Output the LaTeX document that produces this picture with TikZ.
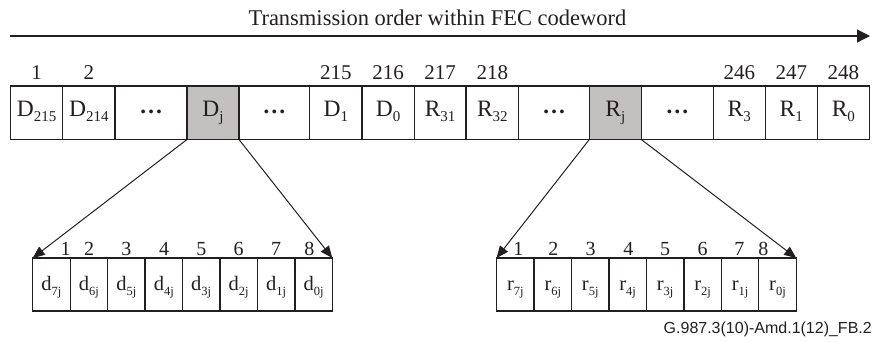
\documentclass[tikz,border=0pt]{standalone}
\usepackage{fontspec}
\setmainfont{Liberation Serif}
\setsansfont{Liberation Sans}
\usetikzlibrary{arrows.meta}
\definecolor{ink}{HTML}{231F20}
\definecolor{shade}{HTML}{C2C1BF}
\newcommand{\bigsub}[1]{\raisebox{-5.3pt}{\fontsize{15}{15}\selectfont #1}}
\newcommand{\smlsub}[1]{\raisebox{-5.5pt}{\fontsize{12.5}{12.5}\selectfont #1}}
\newcommand{\celldots}{\textbf{\raisebox{2.5pt}{…}}}
\begin{document}
\begin{tikzpicture}[x=1pt,y=-1pt,
  topcell/.style={draw=ink, line width=1.3pt, minimum height=53.5pt, inner sep=0pt, outer sep=0pt,
    text height=14pt, text depth=7.5pt, anchor=west, text=ink, font=\fontsize{23.5}{23.5}\selectfont},
  botcell/.style={draw=ink, line width=1.3pt, minimum height=53pt, minimum width=37.45pt, inner sep=0pt, outer sep=0pt,
    text height=15pt, text depth=4pt, anchor=west, text=ink, font=\fontsize{20.5}{20.5}\selectfont},
  toplbl/.style={anchor=base, inner sep=0pt, text=ink, font=\fontsize{21}{21}\selectfont},
  botlbl/.style={anchor=base, inner sep=0pt, text=ink, font=\fontsize{20}{20}\selectfont},
  expand/.style={draw=ink, line width=1pt, -{Triangle[length=12pt,width=10pt]}},
]
\useasboundingbox (0,0) rectangle (876,341);

% title and transmission arrow
\node[anchor=base, inner sep=0pt, text=ink, font=\fontsize{22.5}{22.5}\selectfont] (title) at (437.5,25) {Transmission order within FEC codeword};
\coordinate (ostart) at (10,36);
\coordinate (oend) at (870,36);
\draw[draw=ink, line width=1.2pt, -{Triangle[length=13pt,width=13pt]}] (ostart) -- (oend);

% top codeword row
\node[topcell, minimum width=52pt] (t1) at (10.7,112.75) {D\bigsub{215}};
\node[topcell, minimum width=52.3pt] (t2) at (t1.east) {D\bigsub{214}};
\node[topcell, minimum width=72pt] (t3) at (t2.east) {\celldots};
\node[topcell, minimum width=52pt, fill=shade] (t4) at (t3.east) {D\bigsub{j}};
\node[topcell, minimum width=70.7pt] (t5) at (t4.east) {\celldots};
\node[topcell, minimum width=52.3pt] (t6) at (t5.east) {D\bigsub{1}};
\node[topcell, minimum width=52.3pt] (t7) at (t6.east) {D\bigsub{0}};
\node[topcell, minimum width=51.7pt] (t8) at (t7.east) {R\bigsub{31}};
\node[topcell, minimum width=52.7pt] (t9) at (t8.east) {R\bigsub{32}};
\node[topcell, minimum width=70.6pt] (t10) at (t9.east) {\celldots};
\node[topcell, minimum width=52pt, fill=shade] (t11) at (t10.east) {R\bigsub{j}};
\node[topcell, minimum width=72pt] (t12) at (t11.east) {\celldots};
\node[topcell, minimum width=52pt] (t13) at (t12.east) {R\bigsub{3}};
\node[topcell, minimum width=52pt] (t14) at (t13.east) {R\bigsub{1}};
\node[topcell, minimum width=52.2pt] (t15) at (t14.east) {R\bigsub{0}};

% top position numbers
\node[toplbl] (n1) at (t1.center |- 0,79) {1};
\node[toplbl] (n2) at (t2.center |- 0,79) {2};
\node[toplbl] (n215) at (t6.center |- 0,79) {215};
\node[toplbl] (n216) at (t7.center |- 0,79) {216};
\node[toplbl] (n217) at (t8.center |- 0,79) {217};
\node[toplbl] (n218) at (t9.center |- 0,79) {218};
\node[toplbl] (n246) at (t13.center |- 0,79) {246};
\node[toplbl] (n247) at (t14.center |- 0,79) {247};
\node[toplbl] (n248) at (t15.center |- 0,79) {248};

% lower left byte
\node[botcell] (a1) at (32.7,284.5) {d\smlsub{7j}};
\node[botcell] (a2) at (a1.east) {d\smlsub{6j}};
\node[botcell] (a3) at (a2.east) {d\smlsub{5j}};
\node[botcell] (a4) at (a3.east) {d\smlsub{4j}};
\node[botcell] (a5) at (a4.east) {d\smlsub{3j}};
\node[botcell] (a6) at (a5.east) {d\smlsub{2j}};
\node[botcell] (a7) at (a6.east) {d\smlsub{1j}};
\node[botcell] (a8) at (a7.east) {d\smlsub{0j}};

\node[botlbl] (al1) at (65.7,255) {1};
\node[botlbl] (al2) at (89,255) {2};
\node[botlbl] (al3) at (126.4,255) {3};
\node[botlbl] (al4) at (164,255) {4};
\node[botlbl] (al5) at (201.3,255) {5};
\node[botlbl] (al6) at (238.7,255) {6};
\node[botlbl] (al7) at (276,255) {7};
\node[botlbl] (al8) at (309.3,255) {8};

% lower right byte
\node[botcell] (b1) at (496.6,284.5) {r\smlsub{7j}};
\node[botcell] (b2) at (b1.east) {r\smlsub{6j}};
\node[botcell] (b3) at (b2.east) {r\smlsub{5j}};
\node[botcell] (b4) at (b3.east) {r\smlsub{4j}};
\node[botcell] (b5) at (b4.east) {r\smlsub{3j}};
\node[botcell] (b6) at (b5.east) {r\smlsub{2j}};
\node[botcell] (b7) at (b6.east) {r\smlsub{1j}};
\node[botcell] (b8) at (b7.east) {r\smlsub{0j}};

\node[botlbl] (bl1) at (518.3,255) {1};
\node[botlbl] (bl2) at (553.3,255) {2};
\node[botlbl] (bl3) at (590.7,255) {3};
\node[botlbl] (bl4) at (628.3,255) {4};
\node[botlbl] (bl5) at (665,255) {5};
\node[botlbl] (bl6) at (702.7,255) {6};
\node[botlbl] (bl7) at (739.3,255) {7};
\node[botlbl] (bl8) at (763.3,255) {8};

% expansion arrows
\draw[expand] (t4.south west) -- (a1.north west);
\draw[expand] (t4.south east) -- (a8.north east);
\draw[expand] (t11.south west) -- (b1.north west);
\draw[expand] (t11.south east) -- (b8.north east);

% figure id
\node[anchor=base east, inner sep=0pt, text=ink, font=\sffamily\fontsize{16}{16}\selectfont] (figid) at (872,333) {G.987.3(10)-Amd.1(12)\_FB.2};
\end{tikzpicture}
\end{document}
